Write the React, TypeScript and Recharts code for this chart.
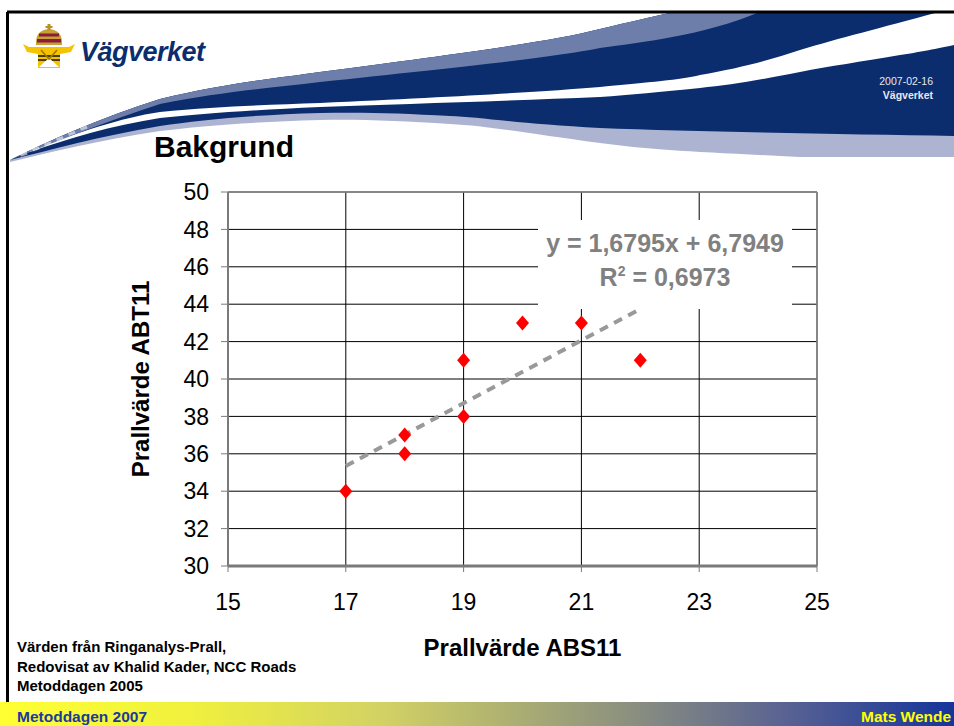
import React from 'react';
import { ScatterChart, Scatter, XAxis, YAxis, CartesianGrid, ReferenceLine } from 'recharts';

// Prallvärde ABS11 (x) vs Prallvärde ABT11 (y)
const absValues = [17, 18, 18, 19, 19, 20, 21, 22];
const abtValues = [34, 37, 36, 41, 38, 43, 43, 41];

const xTicks = [15, 17, 19, 21, 23, 25];
const yTicks = [30, 32, 34, 36, 38, 40, 42, 44, 46, 48, 50];

// linear trendline as printed on the slide
const trendSlope = 1.6795;
const trendIntercept = 6.7949;
const trendLabel = 'y = 1,6795x + 6,7949';
const r2Value = '0,6973';

const footNotes = ['Värden från Ringanalys-Prall,', 'Redovisat av Khalid Kader, NCC Roads', 'Metoddagen 2005'];

const FONT = '"Liberation Sans", Arial, Helvetica, sans-serif';

const points = absValues.map((x, i) => ({ x, y: abtValues[i] }));
const xMin = Math.min(...absValues);
const xMax = Math.max(...absValues);
const trendSegment = [
  { x: xMin, y: trendSlope * xMin + trendIntercept },
  { x: xMax, y: trendSlope * xMax + trendIntercept },
];

const Diamond = (props: any) => {
  const { cx, cy } = props;
  if (cx == null || cy == null) return null;
  return <path d={`M${cx},${cy - 7.5}L${cx + 6.5},${cy}L${cx},${cy + 7.5}L${cx - 6.5},${cy}Z`} fill="#ff0000" />;
};

const Header = () => (
  <svg width={954} height={180} style={{ position: 'absolute', left: 0, top: 0 }}>
    {/* lavender under-band */}
    <path
      d="M10,160 C50,140 100,118 160,99 C230,82 280,78 320,72 C450,55 550,42 600,29 C630,22 650,17 670,13 L954,13 L954,157 C880,157 820,157 800,157 C700,152 650,150 600,143 C530,134 490,126 450,124 C400,121 360,119 320,120 C250,122 200,126 160,131 C100,140 50,152 10,162 Z"
      fill="#adb4d2"
    />
    {/* dark blue body */}
    <path
      d="M10,160 C50,140 100,118 160,99 C230,82 280,78 320,72 C450,55 550,42 600,29 C630,22 650,17 670,13 L954,13 L954,136 C850,134 700,132 600,128 C520,124 480,117 450,116 C400,113 360,112 320,113 C250,115 200,120 160,126 C100,136 50,150 10,160 Z"
      fill="#0b2d6e"
    />
    {/* white stripe */}
    <path
      d="M30,150 C80,132 120,118 160,112 C220,106 270,105 320,103 C450,97 540,92 600,87 C650,82 680,80 700,75 C740,68 770,60 800,50 C840,38 880,28 935,13 L954,13 L954,45 C930,50 920,52 900,55 C860,62 830,66 800,72 C760,80 730,85 700,88 C660,92 630,95 600,97 C500,101 400,104 320,107 C250,110 200,114 160,118 C110,126 70,138 30,152 Z"
      fill="#ffffff"
    />
    {/* light steel band */}
    <path
      d="M10,160 C50,140 100,118 160,99 C230,82 280,78 320,72 C450,55 550,42 600,29 C630,22 650,17 670,13 L757,13 C720,28 680,38 600,48 C550,58 450,68 320,82 C270,88 220,92 160,104 C110,120 60,140 10,160 Z"
      fill="#6e7eaa"
    />
    {/* dotted tail */}
    {[20, 32, 44, 56, 68, 80].map((x, i) => (
      <rect key={i} x={x} y={154 - i * 5.2} width={7} height={3} fill="#ffffff" opacity={0.55} transform={`rotate(-20 ${x} ${154 - i * 5.2})`} />
    ))}
    {/* frame */}
    <line x1={7} y1={12} x2={954} y2={12} stroke="#000" strokeWidth={3} />
    {/* logo */}
    <g>
      <path d="M36,45 Q35,30 49,29 Q63,30 62,45 Z" fill="#c9a032" />
      <path d="M37,39 L61,39 L61,42.5 L37,42.5 Z" fill="#8a1d3c" />
      <path d="M39,33.5 L59,33.5 L59,36.5 L39,36.5 Z" fill="#8a1d3c" />
      <rect x={47.5} y={24} width={3} height={6} fill="#b8912a" />
      <rect x={45.5} y={26} width={7} height={2} fill="#b8912a" />
      <path d="M29,47 L69,47 L75,44 L71,52 L60,54 L60,68 L38,68 L38,54 L27,52 L23,44 Z" fill="#f5c400" />
      <path d="M38,56 L60,56 M38,60 L60,60" stroke="#111" strokeWidth={1.3} />
      <path d="M39,67 L49,58 L59,67 Z" fill="#ffffff" />
      <path d="M41,50 L49,59 L57,50" stroke="#a07a00" strokeWidth={1.6} fill="none" />
    </g>
    <text x={80} y={61} fontFamily={FONT} fontSize={27} fontWeight="bold" fontStyle="italic" fill="#0b2d6e" letterSpacing={-0.5}>
      Vägverket
    </text>
    <text x={933} y={85} textAnchor="end" fontFamily={FONT} fontSize={10.5} fill="#e6e8f0">
      2007-02-16
    </text>
    <text x={933} y={99} textAnchor="end" fontFamily={FONT} fontSize={10.5} fontWeight="bold" fill="#e6e8f0">
      Vägverket
    </text>
    <text x={154} y={157} fontFamily={FONT} fontSize={30} fontWeight="bold" fill="#000">
      Bakgrund
    </text>
  </svg>
);

const App = () => {
  return (
    <div style={{ position: 'absolute', left: 0, top: 0, width: 954, height: 726, background: '#fff', overflow: 'hidden', fontFamily: FONT }}>
      <Header />
      <div style={{ position: 'absolute', left: 6, top: 12, width: 3, height: 690, background: '#000' }} />

      <div style={{ position: 'absolute', left: 0, top: 0 }}>
        <ScatterChart width={954} height={726} margin={{ top: 192, right: 137, bottom: 60, left: 0 }}>
          <CartesianGrid stroke="#000" strokeWidth={1} />
          <XAxis
            type="number"
            dataKey="x"
            domain={[15, 25]}
            ticks={xTicks}
            interval={0}
            height={100}
            tickSize={6}
            tickMargin={22}
            axisLine={{ stroke: '#7a7a7a', strokeWidth: 3 }}
            tickLine={{ stroke: '#7a7a7a' }}
            tick={{ fontSize: 23, fill: '#000', fontFamily: FONT }}
            label={{ value: 'Prallvärde ABS11', position: 'insideBottom', offset: 10, style: { fontSize: 24, fontWeight: 'bold', fill: '#000', fontFamily: FONT } }}
          />
          <YAxis
            type="number"
            dataKey="y"
            domain={[30, 50]}
            ticks={yTicks}
            interval={0}
            width={228}
            tickSize={7}
            tickMargin={12}
            axisLine={{ stroke: '#7a7a7a', strokeWidth: 2 }}
            tickLine={{ stroke: '#7a7a7a' }}
            tick={{ fontSize: 23, fill: '#000', fontFamily: FONT }}
            label={{ value: 'Prallvärde ABT11', angle: -90, position: 'insideLeft', offset: 140, style: { textAnchor: 'middle', fontSize: 24, fontWeight: 'bold', fill: '#000', fontFamily: FONT } }}
          />
          <ReferenceLine y={50} stroke="#8a8a8a" strokeWidth={1.5} />
          <ReferenceLine x={25} stroke="#8a8a8a" strokeWidth={1.5} />
          <Scatter data={points} shape={Diamond} isAnimationActive={false} />
          <ReferenceLine segment={trendSegment} stroke="#999999" strokeWidth={4} strokeDasharray="9 7" />
        </ScatterChart>
      </div>

      {/* trendline equation box */}
      <svg width={254} height={89} style={{ position: 'absolute', left: 538, top: 220 }}>
        <rect x={0} y={0} width={254} height={89} fill="#fff" />
        <text x={127} y={32} textAnchor="middle" fontFamily={FONT} fontSize={25} fontWeight="bold" fill="#808080">
          {trendLabel}
        </text>
        <text x={127} y={66} textAnchor="middle" fontFamily={FONT} fontSize={25} fontWeight="bold" fill="#808080">
          R<tspan fontSize={14} dy={-10}>2</tspan>
          <tspan dy={10}> = {r2Value}</tspan>
        </text>
      </svg>

      {/* source notes */}
      <svg width={330} height={60} style={{ position: 'absolute', left: 0, top: 636 }}>
        {footNotes.map((t, i) => (
          <text key={i} x={17} y={16 + i * 19.5} fontFamily={FONT} fontSize={15} fontWeight="bold" fill="#000">
            {t}
          </text>
        ))}
      </svg>

      {/* footer bar */}
      <div
        style={{
          position: 'absolute',
          left: 0,
          top: 702,
          width: 954,
          height: 24,
          background: 'linear-gradient(to right, #ffff33 0%, #f0f03e 20%, #d2d264 40%, #8b907f 66%, #5a6392 82%, #15349b 100%)',
        }}
      >
        <svg width={954} height={24} style={{ position: 'absolute', left: 0, top: 0 }}>
          <text x={17} y={20} fontFamily={FONT} fontSize={15.5} fontWeight="bold" fill="#1a3a9e">
            Metoddagen 2007
          </text>
          <text x={861} y={20} fontFamily={FONT} fontSize={15.5} fontWeight="bold" fill="#ffff00">
            Mats Wende
          </text>
        </svg>
      </div>
    </div>
  );
};

export default App;
